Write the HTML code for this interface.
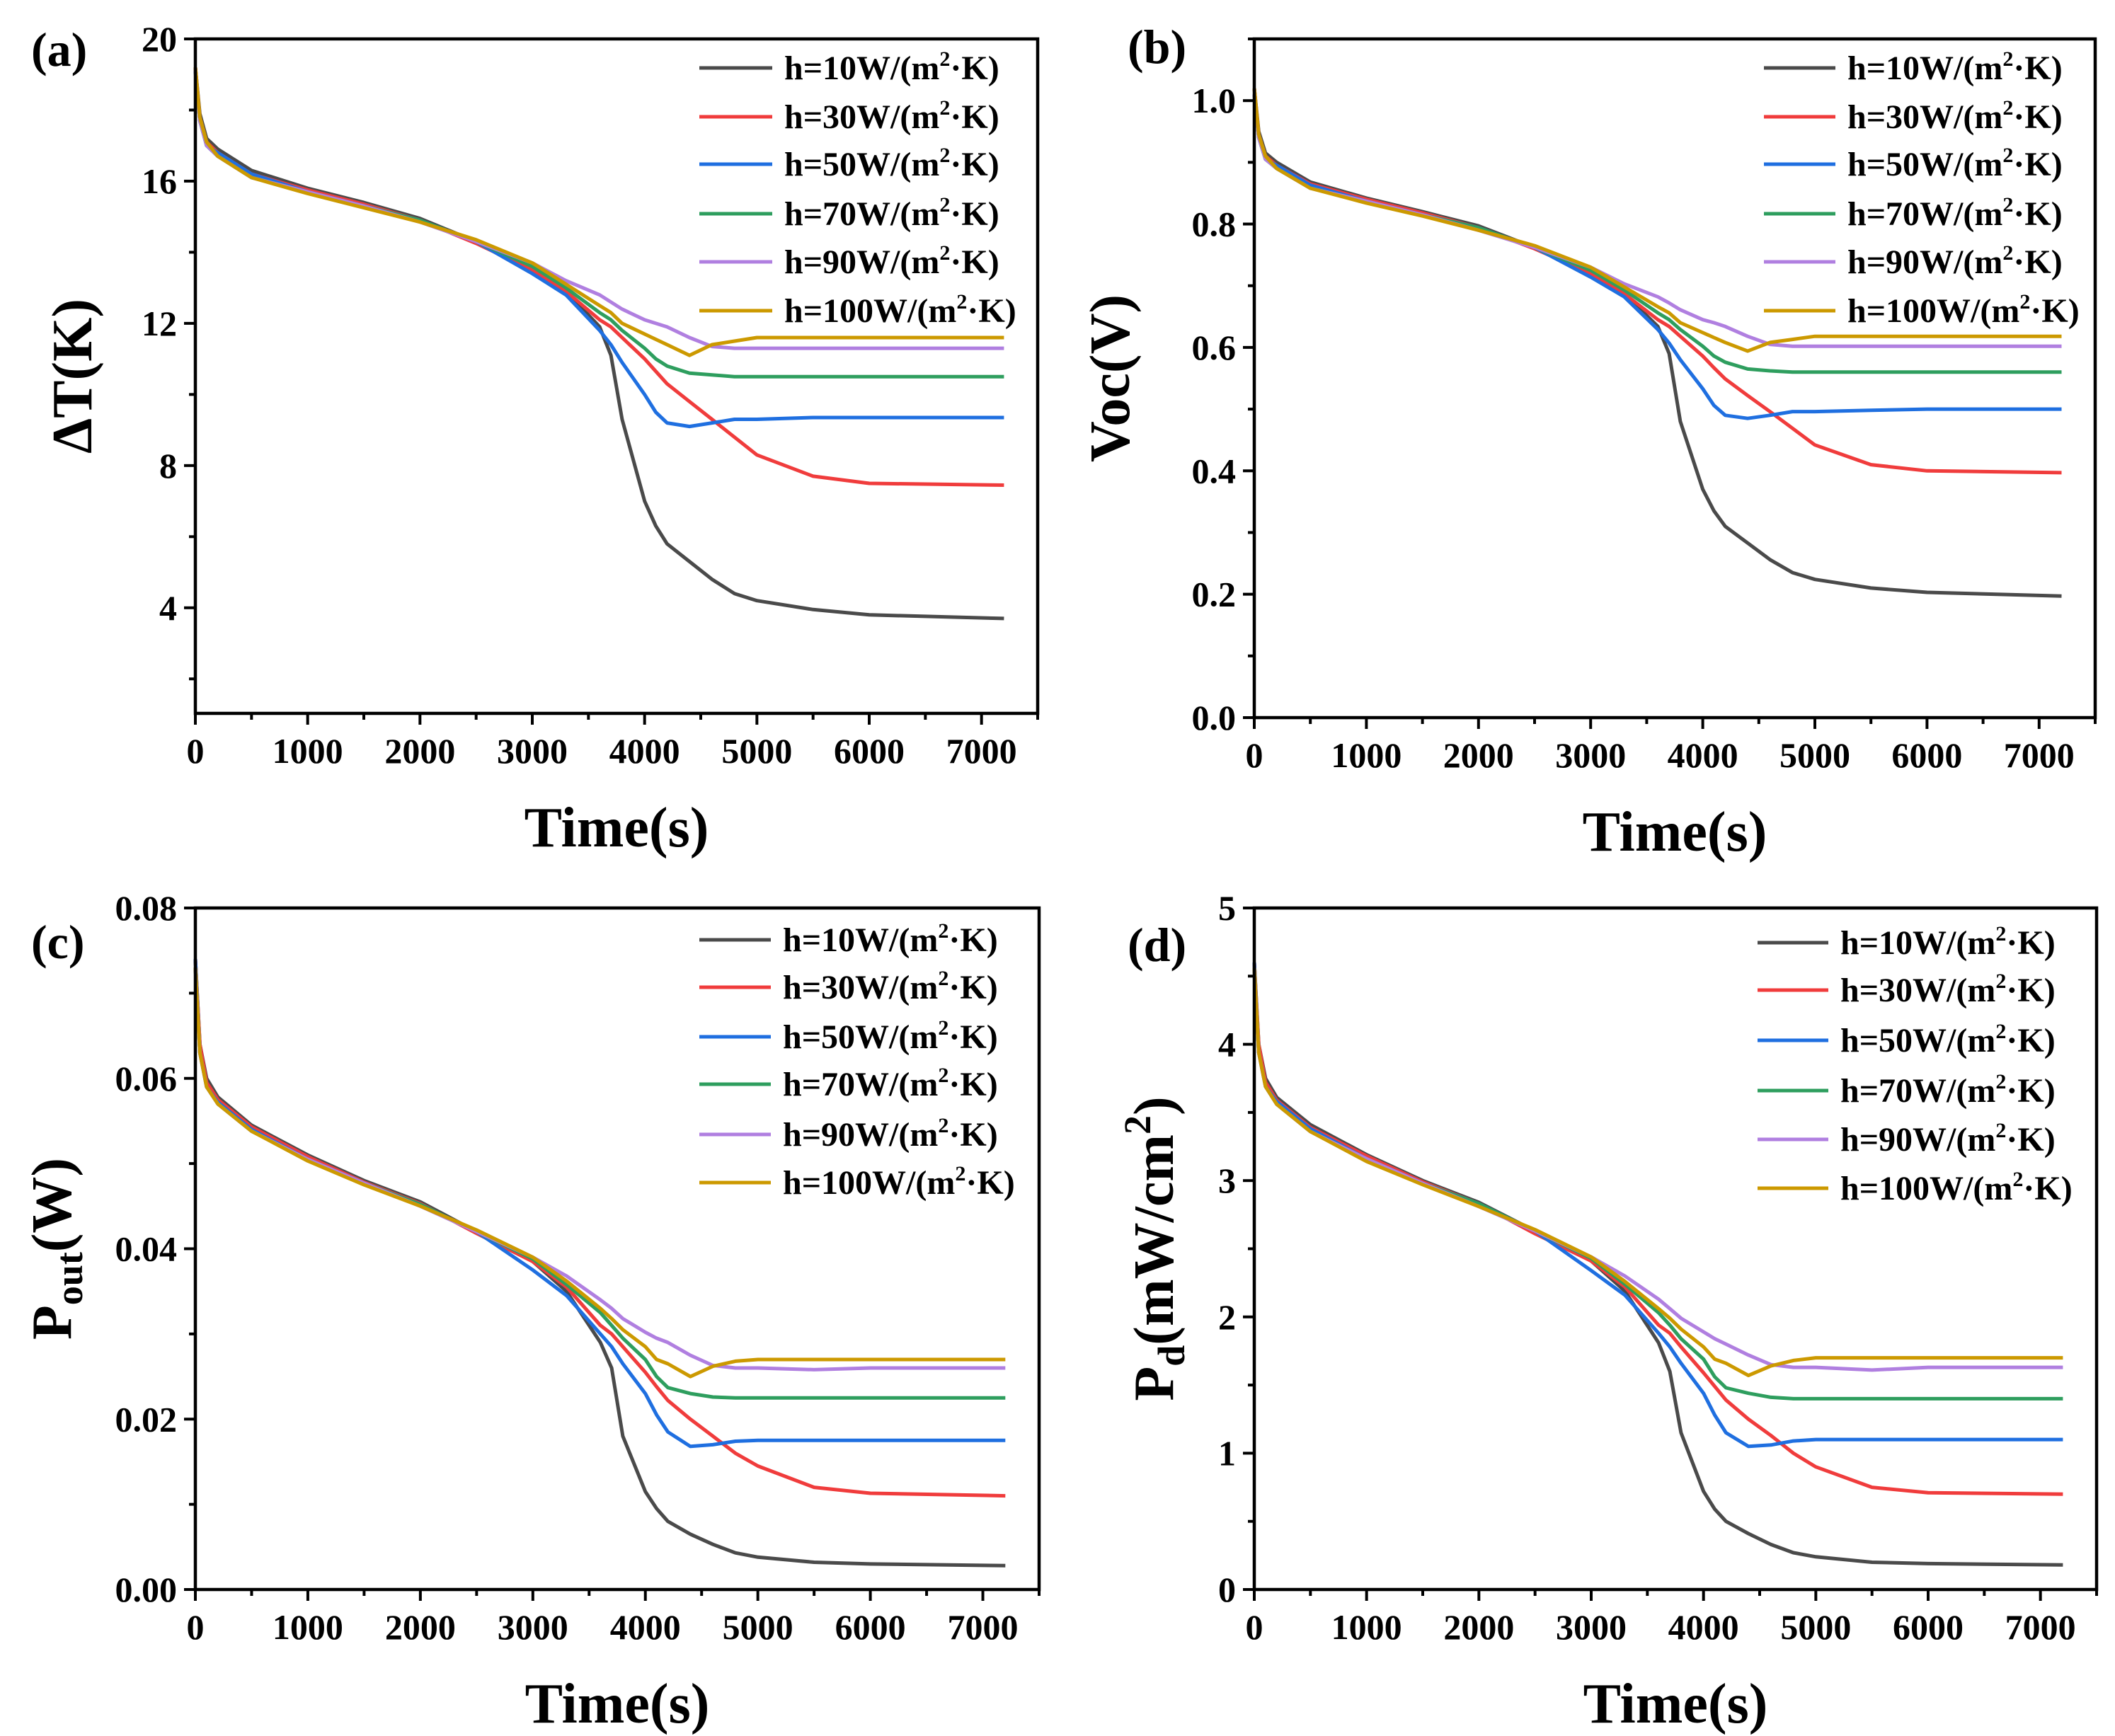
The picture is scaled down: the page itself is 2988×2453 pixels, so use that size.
<!DOCTYPE html>
<html><head><meta charset="utf-8"><style>
html,body{margin:0;padding:0;background:#fff;}
svg{display:block;font-family:"Liberation Serif",serif;font-weight:bold;}
</style></head><body>
<svg id="fig" width="2988" height="2453" viewBox="0 0 2988 2453" xmlns="http://www.w3.org/2000/svg"></svg>
<script>
const times = [0,40,100,200,500,1000,1500,2000,2500,3000,3300,3600,3700,3800,4000,4100,4200,4400,4600,4800,5000,5500,6000,7200];
const seriesNames = ["10","30","50","70","90","100"];
const dT_h10 = [19.2,17.9,17.2,16.9,16.3,15.8,15.4,14.95,14.3,13.5,12.9,11.9,11.1,9.3,7.0,6.3,5.8,5.3,4.8,4.4,4.2,3.95,3.8,3.7];
const dT_h30 = [19.2,17.8,17.1,16.8,16.2,15.75,15.35,14.9,14.25,13.5,12.9,12.1,11.9,11.6,11.0,10.65,10.3,9.8,9.3,8.8,8.3,7.7,7.5,7.45];
const dT_h50 = [19.1,17.7,17.0,16.8,16.2,15.7,15.3,14.9,14.3,13.4,12.8,11.8,11.4,10.9,10.0,9.5,9.2,9.1,9.2,9.3,9.3,9.35,9.35,9.35];
const dT_h70 = [19.1,17.7,17.0,16.7,16.1,15.7,15.3,14.9,14.3,13.6,13.0,12.3,12.1,11.8,11.3,11.0,10.8,10.6,10.55,10.5,10.5,10.5,10.5,10.5];
const dT_h90 = [19.1,17.7,17.0,16.7,16.1,15.7,15.3,14.85,14.3,13.7,13.2,12.8,12.6,12.4,12.1,12.0,11.9,11.6,11.35,11.3,11.3,11.3,11.3,11.3];
const dT_h100 = [19.2,17.8,17.1,16.7,16.1,15.65,15.25,14.85,14.35,13.7,13.1,12.5,12.3,12.0,11.7,11.55,11.4,11.1,11.4,11.5,11.6,11.6,11.6,11.6];
const voc_h10 = [1.02,0.95,0.915,0.90,0.868,0.842,0.82,0.797,0.762,0.72,0.687,0.634,0.59,0.48,0.37,0.335,0.31,0.283,0.256,0.235,0.224,0.21,0.203,0.197];
const voc_h30 = [1.02,0.945,0.91,0.895,0.865,0.84,0.818,0.794,0.76,0.72,0.687,0.645,0.634,0.618,0.586,0.567,0.549,0.522,0.496,0.469,0.442,0.41,0.40,0.397];
const voc_h50 = [1.01,0.94,0.905,0.895,0.863,0.837,0.815,0.794,0.762,0.714,0.682,0.629,0.607,0.58,0.533,0.506,0.49,0.485,0.49,0.496,0.496,0.498,0.50,0.50];
const voc_h70 = [1.01,0.94,0.905,0.89,0.858,0.837,0.815,0.794,0.762,0.725,0.693,0.656,0.645,0.629,0.602,0.586,0.576,0.565,0.562,0.56,0.56,0.56,0.56,0.56];
const voc_h90 = [1.01,0.94,0.905,0.89,0.858,0.837,0.815,0.79,0.762,0.73,0.703,0.682,0.672,0.661,0.645,0.64,0.634,0.618,0.605,0.602,0.602,0.602,0.602,0.602];
const voc_h100 = [1.02,0.945,0.91,0.89,0.858,0.834,0.813,0.79,0.765,0.73,0.698,0.666,0.656,0.64,0.624,0.616,0.608,0.594,0.608,0.613,0.618,0.618,0.618,0.618];
const pout_h10 = [.074,.064,.060,.0578,.0545,.051,.048,.0455,.042,.0385,.035,.029,.026,.018,.0115,.0095,.008,.0065,.0053,.0043,.0038,.0032,.003,.0028];
const pout_h30 = [.074,.064,.0595,.0575,.0543,.0508,.0478,.0453,.0418,.0385,.0355,.031,.030,.0285,.0255,.0238,.0222,.020,.018,.016,.0145,.012,.0113,.011];
const pout_h50 = [.074,.063,.059,.0572,.054,.0505,.0477,.0452,.042,.0375,.0345,.030,.0285,.0265,.023,.0205,.0185,.0168,.017,.0174,.0175,.0175,.0175,.0175];
const pout_h70 = [.073,.063,.059,.057,.0538,.0505,.0477,.0452,.042,.0388,.0358,.0325,.031,.0295,.027,.025,.0237,.023,.0226,.0225,.0225,.0225,.0225,.0225];
const pout_h90 = [.073,.063,.059,.057,.0538,.0505,.0477,.045,.042,.039,.0368,.034,.033,.0318,.0302,.0295,.029,.0275,.0263,.026,.026,.0258,.026,.026];
const pout_h100 = [.073,.063,.059,.057,.0538,.0503,.0475,.045,.0422,.039,.0362,.033,.0318,.0305,.0285,.027,.0265,.025,.0262,.0268,.027,.027,.027,.027];
const pd_h10 = [4.6,4.0,3.75,3.61,3.41,3.19,3.0,2.84,2.63,2.41,2.19,1.81,1.6,1.15,0.72,0.59,0.5,0.41,0.33,0.27,0.24,0.2,0.19,0.18];
const pd_h30 = [4.6,4.0,3.72,3.59,3.39,3.18,2.99,2.83,2.61,2.41,2.22,1.94,1.88,1.78,1.59,1.49,1.39,1.25,1.13,1.0,0.9,0.75,0.71,0.7];
const pd_h50 = [4.6,3.94,3.69,3.58,3.38,3.16,2.98,2.83,2.63,2.34,2.16,1.88,1.78,1.66,1.44,1.28,1.15,1.05,1.06,1.09,1.1,1.1,1.1,1.1];
const pd_h70 = [4.56,3.94,3.69,3.56,3.36,3.16,2.98,2.83,2.63,2.43,2.24,2.03,1.94,1.84,1.69,1.56,1.48,1.44,1.41,1.4,1.4,1.4,1.4,1.4];
const pd_h90 = [4.56,3.94,3.69,3.56,3.36,3.16,2.98,2.81,2.63,2.44,2.3,2.13,2.06,1.99,1.89,1.84,1.8,1.72,1.65,1.63,1.63,1.61,1.63,1.63];
const pd_h100 = [4.56,3.94,3.69,3.56,3.36,3.14,2.97,2.81,2.64,2.44,2.26,2.06,1.99,1.91,1.78,1.69,1.66,1.57,1.64,1.68,1.7,1.7,1.7,1.7];
const xTickLabels = ["0","1000","2000","3000","4000","5000","6000","7000"];
const yTicksA = ["4","8","12","16","20"];
const yTicksB = ["0.0","0.2","0.4","0.6","0.8","1.0"];
const yTicksC = ["0.00","0.02","0.04","0.06","0.08"];
const yTicksD = ["0","1","2","3","4","5"];

const colors = ["#4a4a4a","#f03c3c","#1f6fe0","#2e9e5e","#b07fe0","#cc9900"];
const NS = "http://www.w3.org/2000/svg";
const svg = document.getElementById("fig");
function mk(tag, attrs, parent){
  const e = document.createElementNS(NS, tag);
  for (const k in attrs) e.setAttribute(k, attrs[k]);
  (parent||svg).appendChild(e);
  return e;
}

const panels = [
  {id:"a", L:276, R:1466, T:55, B:1008, ymin:1.03, ymax:20, yt:yTicksA, ym:2, data:[dT_h10,dT_h30,dT_h50,dT_h70,dT_h90,dT_h100],
   lab:[44,71], leg:{x1:988,x2:1091,tx:1108,rows:[96,165,232,302,370,439]}, ytx:101},
  {id:"b", L:1772, R:2960, T:55, B:1014, ymin:0, ymax:1.1, yt:yTicksB, ym:0.1, data:[voc_h10,voc_h30,voc_h50,voc_h70,voc_h90,voc_h100],
   lab:[1593,67], leg:{x1:2492,x2:2593,tx:2610,rows:[96,165,232,302,370,439]}, ytx:1567},
  {id:"c", L:276, R:1468, T:1283, B:2246, ymin:0, ymax:0.08, yt:yTicksC, ym:0.01, data:[pout_h10,pout_h30,pout_h50,pout_h70,pout_h90,pout_h100],
   lab:[44,1332], leg:{x1:988,x2:1089,tx:1106,rows:[1328,1395,1465,1532,1603,1671]}, ytx:72},
  {id:"d", L:1772, R:2962, T:1283, B:2246, ymin:0, ymax:5, yt:yTicksD, ym:0.5, data:[pd_h10,pd_h30,pd_h50,pd_h70,pd_h90,pd_h100],
   lab:[1593,1336], leg:{x1:2483,x2:2583,tx:2600,rows:[1332,1399,1470,1541,1610,1679]}, ytx:1629}
];

panels.forEach(p=>{
  const g = mk("g",{});
  
  
  const xs = t => p.L + (t-0)/(7500-0)*(p.R-p.L);
  const ys = v => p.B - (v-p.ymin)/(p.ymax-p.ymin)*(p.B-p.T);
  p.data.forEach((arr,i)=>{
    const d = arr.map((v,j)=>(j?"L":"M")+xs(times[j]).toFixed(1)+","+ys(v).toFixed(1)).join(" ");
    const path = mk("path",{d:d, fill:"none", stroke:colors[i], "stroke-width":5, "stroke-linejoin":"round"}, g);
    
    
  });
  const fr = mk("rect",{x:p.L,y:p.T,width:p.R-p.L,height:p.B-p.T,fill:"none",stroke:"#000","stroke-width":4.5}, g);
  
  
  for (let t=0;t<=7500;t+=500){
    const major = t%1000===0;
    mk("line",{x1:xs(t),x2:xs(t),y1:p.B,y2:p.B+(major?16:9),stroke:"#000","stroke-width":4}, g);
  }
  xTickLabels.forEach((s)=>{
    const tx = mk("text",{x:xs(+s),y:p.B+70,"text-anchor":"middle","font-size":50}, g);
    tx.textContent = s;
    
    
  });
  for (let v=Math.ceil(p.ymin/p.ym-1e-6)*p.ym; v<=p.ymax+1e-9; v+=p.ym){
    const isMaj = p.yt.some(s=>Math.abs(+s-v)<1e-9);
    mk("line",{x1:p.L,x2:p.L-(isMaj?16:9),y1:ys(v),y2:ys(v),stroke:"#000","stroke-width":4}, g);
  }
  p.yt.forEach(s=>{
    const ty = mk("text",{x:p.L-26,y:ys(+s)+17,"text-anchor":"end","font-size":50}, g);
    ty.textContent = s;
    
    
  });
  const xt = mk("text",{x:(p.L+p.R)/2,y:p.B+188,"text-anchor":"middle","font-size":80}, g);
  xt.textContent = "Time(s)";
  
  
  const yc = (p.T+p.B)/2;
  const yt = mk("text",{x:p.ytx, y:yc, "text-anchor":"middle","font-size":80, transform:"rotate(-90 "+p.ytx+" "+yc+")", dy:"0.35em"}, g);
  
  
  if (p.id==="a") yt.textContent = "ΔT(K)";
  if (p.id==="b") yt.textContent = "Voc(V)";
  if (p.id==="c") yt.innerHTML = 'P<tspan font-size="54" baseline-shift="-30%">out</tspan>(W)';
  if (p.id==="d") yt.innerHTML = 'P<tspan font-size="54" baseline-shift="-30%">d</tspan>(mW/cm<tspan font-size="54" baseline-shift="60%">2</tspan>)';
  const pl = mk("text",{x:p.lab[0],y:p.lab[1]+22,"font-size":68}, g);
  pl.textContent = "("+p.id+")";
  
  
  seriesNames.forEach((n,i)=>{
    const ry = p.leg.rows[i];
    const le = mk("g",{}, g);
    
    
    mk("line",{x1:p.leg.x1,x2:p.leg.x2,y1:ry,y2:ry,stroke:colors[i],"stroke-width":5}, le);
    const lt = mk("text",{x:p.leg.tx,y:ry+16,"font-size":48}, le);
    lt.innerHTML = 'h='+n+'W/(m<tspan font-size="30" baseline-shift="65%">2</tspan>·K)';
  });
});
</script>
</body></html>
